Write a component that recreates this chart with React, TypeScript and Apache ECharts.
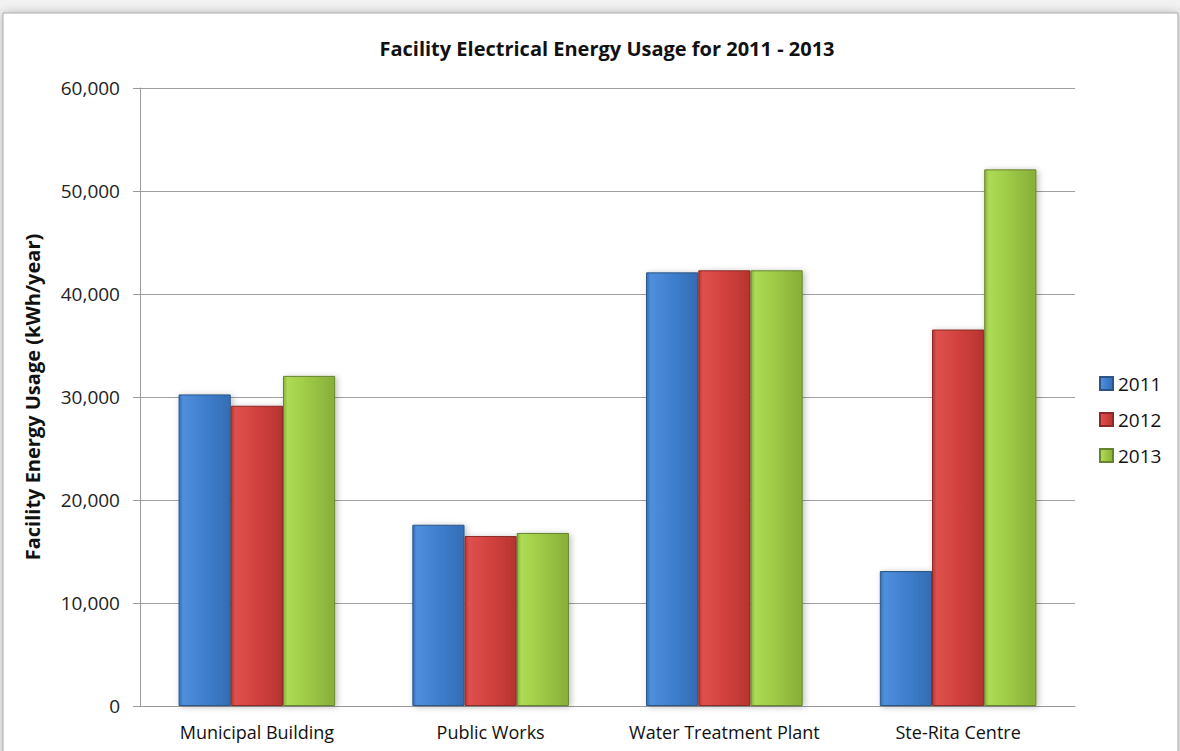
import React, { useEffect, useRef } from "react";
import * as echarts from "echarts";

const categories = ["Municipal Building", "Public Works", "Water Treatment Plant", "Ste-Rita Centre"];
const years = ["2011", "2012", "2013"];
const values2011 = [30250, 17600, 42100, 13100];
const values2012 = [29150, 16500, 42300, 36550];
const values2013 = [32050, 16800, 42300, 52100];
const yTicks = [0, 10000, 20000, 30000, 40000, 50000, 60000];

const FONT = "'Open Sans', 'Noto Sans', sans-serif";

const palettes = [
  { light: "#4f8fdc", mid: "#3f7fce", dark: "#3570b8", border: "#2c5584" },
  { light: "#de514d", mid: "#d2413e", dark: "#bb3633", border: "#8a2a28" },
  { light: "#addb54", mid: "#9dc846", dark: "#8ab23a", border: "#66832d" },
];

function grad(p: typeof palettes[0]) {
  return new echarts.graphic.LinearGradient(0, 0, 1, 0, [
    { offset: 0, color: p.dark },
    { offset: 0.08, color: p.light },
    { offset: 0.5, color: p.mid },
    { offset: 0.92, color: p.dark },
    { offset: 1, color: p.dark },
  ]);
}

export default function App() {
  const ref = useRef<HTMLDivElement>(null);
  useEffect(() => {
    if (!ref.current) return;
    const chart = echarts.init(ref.current, null, { renderer: "svg" });
    const seriesData = [values2011, values2012, values2013];
    chart.setOption({
      animation: false,
      backgroundColor: "#f2f2f2",
      graphic: [
        {
          type: "rect",
          shape: { x: 3, y: 13, width: 1175, height: 745 },
          style: { fill: "#ffffff", stroke: "#a9a9a9", lineWidth: 1, shadowBlur: 10, shadowColor: "rgba(0,0,0,0.25)" },
          z: -10,
          silent: true,
        },
      ],
      title: {
        text: "Facility Electrical Energy Usage for 2011 - 2013",
        left: 602,
        top: 33,
        textAlign: "center",
        textStyle: { fontFamily: FONT, fontWeight: "bold", fontSize: 20, color: "#111" },
      },
      legend: {
        orient: "vertical",
        left: 1094,
        top: 369,
        itemWidth: 13,
        itemHeight: 13,
        itemGap: 17,
        icon: "rect",
        textStyle: { fontFamily: FONT, fontSize: 19, color: "#111" },
        data: years,
      },
      grid: { left: 140, right: 105, top: 88, bottom: 45, containLabel: false },
      xAxis: {
        type: "category",
        data: categories,
        axisLine: { show: true, lineStyle: { color: "#9a9a9a", width: 1 } },
        axisTick: { show: false },
        axisLabel: { fontFamily: FONT, fontSize: 18, color: "#111", margin: 17, interval: 0 },
      },
      yAxis: {
        type: "value",
        min: 0,
        max: 60000,
        interval: 10000,
        name: "Facility Energy Usage (kWh/year)",
        nameLocation: "middle",
        nameGap: 98,
        nameRotate: 90,
        nameTextStyle: { fontFamily: FONT, fontWeight: "bold", fontSize: 20, color: "#111" },
        axisLine: { show: true, lineStyle: { color: "#9a9a9a", width: 1 } },
        axisTick: { show: true, length: 7, lineStyle: { color: "#9a9a9a" } },
        axisLabel: {
          fontFamily: FONT,
          fontSize: 19,
          color: "#222",
          margin: 20,
          formatter: (v: number) => (yTicks.includes(v) ? v.toLocaleString("en-US") : ""),
        },
        splitLine: { show: true, lineStyle: { color: "#a0a0a0", width: 1 } },
      },
      series: years.map((y, i) => ({
        name: y,
        type: "bar",
        data: seriesData[i],
        barGap: "0%",
        barCategoryGap: "33%",
        itemStyle: {
          color: grad(palettes[i]),
          borderColor: palettes[i].border,
          borderWidth: 1,
          shadowBlur: 6,
          shadowColor: "rgba(0,0,0,0.25)",
          shadowOffsetX: 2,
          shadowOffsetY: 1,
        },
      })),
    });
    return () => chart.dispose();
  }, []);
  return (
    <div
      ref={ref}
      style={{ position: "fixed", left: 0, top: 0, width: 1180, height: 751 }}
    />
  );
}
